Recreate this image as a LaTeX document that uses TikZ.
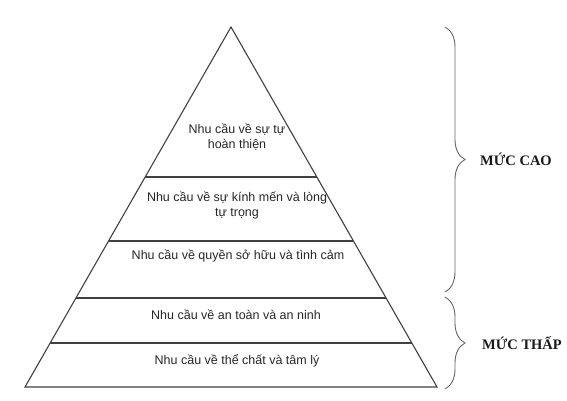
\documentclass[tikz,border=0pt]{standalone}
\usepackage{fontspec}
\setmainfont{Liberation Sans}
\newfontfamily\levelfont{Liberation Serif}
\usetikzlibrary{positioning}
\usetikzlibrary{calc}
\usetikzlibrary{decorations.pathreplacing}
\tikzset{
  tier/.style={align=center, font=\fontsize{12.5}{15}\selectfont, text=black!85, inner sep=0pt},
  tier line/.style={draw=black!75, line width=1.1pt},
  level brace/.style={
    decorate,
    decoration={brace, amplitude=20pt},
    draw=black!60, line width=0.9pt,
  },
  level label/.style={font=\levelfont\bfseries\fontsize{14.5}{17}\selectfont, text=black!90, inner sep=0pt},
}

\begin{document}
\begin{tikzpicture}[x=1pt, y=1pt]
  \useasboundingbox (0,0) rectangle (567,400);

  % Define corners
  \coordinate (apex) at (231,373);
  \coordinate (base_l) at (25,13);
  \coordinate (base_r) at (437,13);

  \coordinate (cut1_l) at ($(apex)!0.4167!(base_l)$);
  \coordinate (cut1_r) at ($(apex)!0.4167!(base_r)$);
  \coordinate (cut2_l) at ($(apex)!0.5944!(base_l)$);
  \coordinate (cut2_r) at ($(apex)!0.5944!(base_r)$);
  \coordinate (cut3_l) at ($(apex)!0.7528!(base_l)$);
  \coordinate (cut3_r) at ($(apex)!0.7528!(base_r)$);
  \coordinate (cut4_l) at ($(apex)!0.8778!(base_l)$);
  \coordinate (cut4_r) at ($(apex)!0.8778!(base_r)$);

  % Define nodes
  \node[tier] (self) at (237,262.5) {Nhu cầu về sự tự\\hoàn thiện};
  \node[tier] (esteem) at (237,194.5) {Nhu cầu về sự kính mến và lòng\\tự trọng};
  \node[tier] (belong) at (238,144) {Nhu cầu về quyền sở hữu và tình cảm};
  \node[tier] (safety) at (236,85) {Nhu cầu về an toàn và an ninh};
  \node[tier] (body) at (237,39) {Nhu cầu về thể chất và tâm lý};

  % Pyramid
  \draw[tier line, line join=miter] (apex) -- (base_l) -- (base_r) -- cycle;
  \draw[tier line] (cut1_l) -- (cut1_r);
  \draw[tier line] (cut2_l) -- (cut2_r);
  \draw[tier line] (cut3_l) -- (cut3_r);
  \draw[tier line] (cut4_l) -- (cut4_r);

  % Braces
  \coordinate (cao_top) at (445,373);
  \coordinate (cao_bot) at (445,108);
  \coordinate (thap_top) at (445,103);
  \coordinate (thap_bot) at (445,11);
  \coordinate (cao_mid) at ($(cao_top)!0.5!(cao_bot)$);
  \coordinate (thap_mid) at ($(thap_top)!0.5!(thap_bot)$);

  \draw[level brace] (cao_top) -- (cao_bot);
  \draw[level brace] (thap_top) -- (thap_bot);

  \node[level label, right=35pt of cao_mid] (cao) {MỨC CAO};
  \node[level label, right=37pt of thap_mid] (thap) {MỨC THẤP};

\end{tikzpicture}
\end{document}
